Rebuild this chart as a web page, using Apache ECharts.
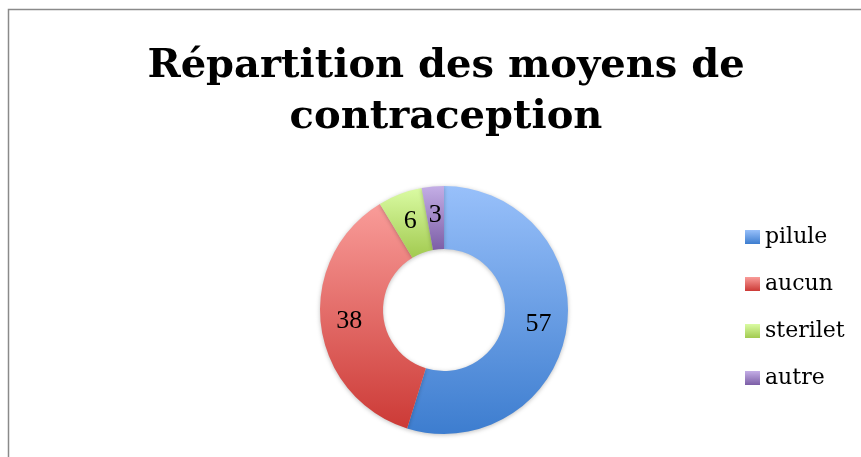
<!DOCTYPE html>
<html>
<head>
<meta charset="utf-8">
<script src="https://cdn.jsdelivr.net/npm/echarts@6/dist/echarts.min.js"></script>
<style>
  html, body { margin: 0; padding: 0; background: #ffffff; }
  #chart { width: 861px; height: 457px; }
</style>
</head>
<body>
<div id="chart"></div>
<script>
const categories = ['pilule', 'aucun', 'sterilet', 'autre']
const values = [57, 38, 6, 3]
// couleurs haut / bas du dégradé de chaque part
const topColors = ['#98c0fa', '#f99c99', '#dafba3', '#c4aee6']
const bottomColors = ['#3d7dcf', '#cc3a36', '#a2ca50', '#7c5ea6']

const grad = (i) => new echarts.graphic.LinearGradient(0, 0, 0, 1, [
  { offset: 0, color: topColors[i] },
  { offset: 1, color: bottomColors[i] }
])

const chart = echarts.init(document.getElementById('chart'))

const option = {
  backgroundColor: '#ffffff',
  animation: false,
  title: {
    text: 'Répartition des moyens de\ncontraception',
    left: 441,
    top: 36,
    textAlign: 'center',
    textStyle: {
      fontFamily: 'DejaVu Serif',
      fontWeight: 'bold',
      fontSize: 40,
      lineHeight: 51,
      color: '#000000'
    }
  },
  legend: {
    orient: 'vertical',
    left: 740,
    top: 221,
    itemWidth: 15,
    itemHeight: 14,
    itemGap: 25,
    icon: 'rect',
    data: categories,
    textStyle: {
      fontFamily: 'DejaVu Serif',
      fontSize: 22,
      color: '#000000'
    }
  },
  graphic: [{
    type: 'rect',
    silent: true,
    shape: { x: 8.5, y: 9.5, width: 900, height: 500 },
    style: { fill: 'none', stroke: '#8a8a8a', lineWidth: 1.5 }
  }],
  series: [{
    type: 'pie',
    center: [444, 310],
    radius: [61, 124],
    startAngle: 90,
    clockwise: true,
    label: {
      show: true,
      position: 'inside',
      formatter: '{c}',
      fontFamily: 'Liberation Serif',
      fontSize: 26,
      color: '#000000'
    },
    labelLine: { show: false },
    itemStyle: {
      shadowBlur: 4,
      shadowColor: 'rgba(0,0,0,0.25)',
      shadowOffsetY: 1
    },
    emphasis: { disabled: true },
    data: categories.map((name, i) => ({
      name: name,
      value: values[i],
      itemStyle: { color: grad(i) }
    }))
  }]
}

chart.setOption(option)
</script>
</body>
</html>
